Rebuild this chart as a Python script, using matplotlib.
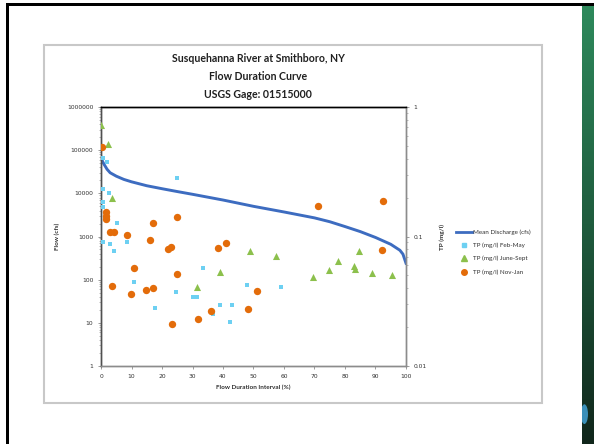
import numpy as np
import matplotlib
matplotlib.use("Agg")
import matplotlib.pyplot as plt
import matplotlib.ticker as mticker
from matplotlib.patches import Rectangle, Ellipse
from matplotlib.lines import Line2D
from matplotlib.colors import LinearSegmentedColormap

# ---------------- data ----------------
title_lines = ["Susquehanna River at Smithboro, NY", "Flow Duration Curve", "USGS Gage: 01515000"]

curve_pct = [0, 0.5, 1, 2, 3, 5, 7.5, 10, 15, 20, 25, 30, 40, 50, 60, 70, 75, 80, 85, 90, 95, 98, 99, 100]
curve_flow = [70000, 55000, 47000, 36000, 30000, 25000, 21000, 18500, 15000, 12800, 11000, 9500,
              7000, 5000, 3700, 2700, 2200, 1700, 1300, 950, 660, 480, 390, 240]

feb_may_pct = [0.56, 1.87, 0.75, 2.72, 0.75, 0.75, 5.3, 24.8, 0.75, 2.95, 4.26, 8.6, 10.7, 17.7,
               24.5, 30.1, 31.4, 33.3, 36.8, 39.0, 42.3, 42.9, 48.0, 58.9]
feb_may_tp = [0.402, 0.379, 0.231, 0.216, 0.186, 0.170, 0.128, 0.281, 0.0901, 0.0871, 0.0773, 0.0901,
              0.0448, 0.0281, 0.0371, 0.0341, 0.0341, 0.0571, 0.0252, 0.0294, 0.0219, 0.0294, 0.0425, 0.0407]

june_sept_pct = [0.0, 2.4, 3.5, 31.4, 39.0, 48.8, 57.3, 69.5, 74.9, 77.7, 83.0, 83.3, 84.5, 88.9, 95.5]
june_sept_tp = [0.726, 0.518, 0.197, 0.0409, 0.0532, 0.0773, 0.0706, 0.0490, 0.0548, 0.0650,
                0.0591, 0.0563, 0.0776, 0.0522, 0.0501]

nov_jan_pct = [0.33, 1.5, 1.7, 1.6, 2.95, 4.26, 8.6, 17.1, 24.8, 16.1, 22.1, 23.0, 10.9, 3.7, 9.8,
               14.8, 17.1, 25.0, 23.2, 31.9, 36.0, 38.5, 41.0, 71.0, 92.6, 92.2, 51.2, 48.1]
nov_jan_tp = [0.493, 0.155, 0.145, 0.136, 0.108, 0.108, 0.103, 0.128, 0.142, 0.0940, 0.0796, 0.0826,
              0.0574, 0.0417, 0.0360, 0.0386, 0.0400, 0.0516, 0.0210, 0.0231, 0.0266, 0.0811, 0.0895,
              0.172, 0.188, 0.0791, 0.0379, 0.0274]

legend_labels = ["Mean Discharge (cfs)", "TP (mg/l) Feb-May", "TP (mg/l) June-Sept", "TP (mg/l) Nov-Jan"]
x_ticks = list(range(0, 101, 10))
left_ticks = [1, 10, 100, 1000, 10000, 100000, 1000000]
left_tick_labels = ["1", "10", "100", "1000", "10000", "100000", "1000000"]
right_ticks = [0.01, 0.1, 1]
right_tick_labels = ["0.01", "0.1", "1"]

# ---------------- figure ----------------
W, H = 594, 444
fig = plt.figure(figsize=(W / 100, H / 100), dpi=100)
fig.patch.set_facecolor("white")

def fx(px):
    return px / W

def fy(py):
    return 1 - py / H

# green stripe with vertical gradient
grad_ax = fig.add_axes([fx(582), 0, fx(594) - fx(582), fy(5)], zorder=1)
grad = np.linspace(0, 1, 256).reshape(-1, 1)
cmap = LinearSegmentedColormap.from_list("g", ["#2e8a5c", "#1f5c3e", "#10261b"])
grad_ax.imshow(grad, aspect="auto", cmap=cmap, extent=[0, 1, 0, 1], origin="upper")
grad_ax.set_xlim(0, 1)
grad_ax.set_ylim(0, 1)
grad_ax.set_axis_off()
grad_ax.add_patch(Ellipse((0.2, 0.068), 0.6, 0.045, transform=grad_ax.transAxes,
                          facecolor="#3a8fb8", edgecolor="none"))

# black slide borders
fig.add_artist(Rectangle((fx(6), fy(6)), fx(594) - fx(6), fy(3) - fy(6), transform=fig.transFigure,
                         color="black", lw=0, zorder=5))
fig.add_artist(Rectangle((fx(6), 0), fx(9) - fx(6), fy(3), transform=fig.transFigure,
                         color="black", lw=0, zorder=5))

# chart area frame
fig.add_artist(Rectangle((fx(44), fy(403)), fx(542) - fx(44), fy(45) - fy(403),
                         transform=fig.transFigure, facecolor="white", edgecolor="#c8c8c8",
                         lw=1.5, zorder=-1))

font = "Lato"

# title
for t, y in zip(title_lines, [58, 76, 94]):
    fig.text(fx(258), fy(y), t, ha="center", va="center", fontsize=7.6,
             fontweight="bold", family=font, color="#202020")

# axes
ax = fig.add_axes([fx(101), fy(366), fx(406) - fx(101), fy(107) - fy(366)], zorder=2)
ax.set_facecolor("none")
ax.set_yscale("log")
ax.set_ylim(1, 1e6)
ax.set_xlim(0, 100)
ax.plot(curve_pct, curve_flow, color="#3d6cc0", lw=2.1, zorder=2)

ax2 = ax.twinx()
ax2.set_yscale("log")
ax2.set_ylim(0.01, 1)
ax2.scatter(feb_may_pct, feb_may_tp, marker="s", s=12, color="#6dd0f2", lw=0, zorder=3)
ax2.scatter(june_sept_pct, june_sept_tp, marker="^", s=26, color="#8cc04c", lw=0, zorder=3)
ax2.scatter(nov_jan_pct, nov_jan_tp, marker="o", s=28, color="#e36c0a", lw=0, zorder=4)

for a in (ax, ax2):
    for s in a.spines.values():
        s.set_linewidth(1.0)
    a.spines["top"].set_color("black")
    a.spines["left"].set_color("#505050")
    a.spines["bottom"].set_color("#8c8c8c")
    a.spines["right"].set_color("#8c8c8c")

ax.set_xticks(x_ticks)
ax.set_xticklabels([str(v) for v in x_ticks])
ax.set_yticks(left_ticks)
ax.set_yticklabels(left_tick_labels)
ax2.set_yticks(right_ticks)
ax2.set_yticklabels(right_tick_labels)
ax.yaxis.set_minor_locator(mticker.LogLocator(base=10, subs=np.arange(2, 10) * 1.0, numticks=20))
ax2.yaxis.set_minor_locator(mticker.LogLocator(base=10, subs=np.arange(2, 10) * 1.0, numticks=20))
ax.yaxis.set_minor_formatter(mticker.NullFormatter())
ax2.yaxis.set_minor_formatter(mticker.NullFormatter())

ax.tick_params(axis="both", which="major", labelsize=4.3, colors="#8c8c8c", labelcolor="#303030",
               length=2.5, width=0.6, pad=3)
ax.tick_params(axis="y", which="minor", length=1.5, width=0.5, colors="#a0a0a0")
ax2.tick_params(axis="y", which="major", labelsize=4.3, colors="#8c8c8c", labelcolor="#303030",
                length=2.5, width=0.6, pad=3)
ax2.tick_params(axis="y", which="minor", length=1.5, width=0.5, colors="#a0a0a0")

ax.set_xlabel("Flow Duration Interval (%)", fontsize=4.6, fontweight="bold", family=font,
              color="#303030", labelpad=4)
ax.set_ylabel("Flow (cfs)", fontsize=4.6, fontweight="bold", family=font, color="#303030",
              labelpad=5)
ax2.set_ylabel("TP (mg/l)", fontsize=4.6, fontweight="bold", family=font, color="#303030",
               labelpad=9, rotation=90)

handles = [Line2D([], [], color="#3d6cc0", lw=2.0),
           Line2D([], [], marker="s", ls="", color="#6dd0f2", markersize=3),
           Line2D([], [], marker="^", ls="", color="#8cc04c", markersize=4),
           Line2D([], [], marker="o", ls="", color="#e36c0a", markersize=4)]
leg = fig.legend(handles, legend_labels, loc="center left",
                 bbox_to_anchor=(fx(453), fy(252)), frameon=False,
                 prop={"family": font, "size": 4.5}, handlelength=2.6, handletextpad=0.2,
                 labelspacing=1.25, borderaxespad=0)
for t in leg.get_texts():
    t.set_color("#303030")

fig.savefig("out.png", dpi=100)
